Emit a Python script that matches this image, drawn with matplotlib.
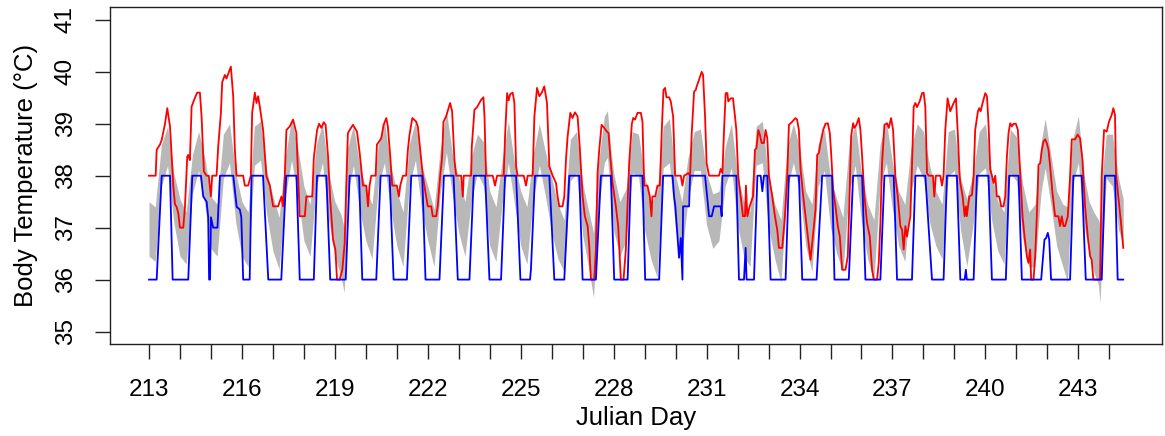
import numpy as np
import matplotlib
matplotlib.use("Agg")
import matplotlib.pyplot as plt

# ---- data (Julian day, deg C) ----
# grey band: (day, upper, lower)
band_pts = [
    (213.0, 37.50, 36.45), (213.2, 37.40, 36.35), (213.4, 38.60, 37.80), (213.6, 38.95, 38.20),
    (213.8, 38.05, 37.10), (214.0, 37.55, 36.45), (214.2, 37.30, 36.30), (214.4, 38.40, 37.65),
    (214.6, 38.85, 38.10), (214.8, 38.35, 37.45), (215.0, 37.60, 36.60), (215.2, 37.45, 36.45),
    (215.4, 38.80, 37.95), (215.6, 39.00, 38.25), (215.8, 38.05, 37.10), (216.0, 37.50, 36.45),
    (216.2, 37.30, 36.25), (216.4, 38.95, 38.20), (216.6, 39.05, 38.30), (216.8, 38.10, 37.25),
    (217.0, 37.60, 36.55), (217.2, 37.20, 36.20), (217.4, 38.35, 37.60), (217.6, 39.10, 38.30),
    (217.8, 38.55, 37.65), (218.0, 37.80, 36.75), (218.2, 37.45, 36.45), (218.4, 38.60, 37.80),
    (218.6, 39.00, 38.25), (218.8, 38.05, 37.15), (219.0, 37.50, 36.45), (219.2, 37.25, 36.05),
    (219.3, 37.00, 35.75), (219.4, 38.50, 37.60), (219.6, 38.98, 38.20), (219.8, 38.20, 37.35),
    (220.0, 37.75, 36.75), (220.2, 37.45, 36.40), (220.4, 38.60, 37.80), (220.6, 39.05, 38.25),
    (220.8, 38.20, 37.35), (221.0, 37.70, 36.65), (221.2, 37.30, 36.25), (221.4, 38.60, 37.80),
    (221.6, 39.05, 38.30), (221.8, 38.20, 37.35), (222.0, 37.80, 36.75), (222.2, 37.35, 36.25),
    (222.4, 38.50, 37.65), (222.6, 39.25, 38.45), (222.8, 38.40, 37.60), (223.0, 37.95, 36.90),
    (223.2, 37.50, 36.45), (223.4, 38.35, 37.50), (223.6, 38.80, 38.05), (223.8, 38.65, 37.80),
    (224.0, 37.70, 36.65), (224.2, 37.40, 36.35), (224.4, 38.30, 37.45), (224.6, 39.05, 38.25),
    (224.8, 38.25, 37.45), (225.0, 37.70, 36.65), (225.2, 37.40, 36.30), (225.4, 38.40, 37.55),
    (225.6, 39.00, 38.20), (225.8, 38.45, 37.60), (226.0, 37.95, 36.90), (226.2, 37.45, 36.40),
    (226.4, 37.15, 36.15), (226.6, 38.70, 37.90), (226.8, 38.85, 38.05), (227.0, 37.85, 36.85),
    (227.2, 37.30, 36.20), (227.35, 36.90, 35.65), (227.5, 38.20, 37.35), (227.7, 39.15, 38.25),
    (227.8, 39.25, 38.35), (227.9, 38.55, 37.65), (228.0, 38.05, 36.95), (228.2, 37.50, 36.45),
    (228.4, 37.75, 36.75), (228.6, 38.85, 38.05), (228.8, 38.80, 38.00), (229.0, 38.00, 36.95),
    (229.2, 37.45, 36.40), (229.4, 37.70, 36.05), (229.6, 38.95, 38.15), (229.8, 39.10, 38.25),
    (230.0, 38.00, 36.95), (230.2, 37.50, 36.45), (230.4, 38.35, 37.55), (230.6, 38.85, 38.10),
    (230.8, 38.90, 38.10), (231.0, 38.05, 37.05), (231.2, 37.65, 36.60), (231.4, 37.70, 36.75),
    (231.6, 38.55, 37.80), (231.8, 39.00, 38.15), (232.0, 38.00, 37.05), (232.2, 37.50, 36.45),
    (232.4, 37.30, 36.25), (232.6, 38.95, 38.20), (232.8, 39.05, 38.25), (233.0, 37.95, 37.00),
    (233.2, 37.45, 36.40), (233.4, 37.15, 35.95), (233.6, 38.55, 37.75), (233.8, 39.00, 38.25),
    (234.0, 38.55, 37.70), (234.2, 37.70, 36.65), (234.4, 37.45, 36.15), (234.6, 38.60, 37.80),
    (234.8, 38.90, 38.10), (235.0, 37.95, 37.00), (235.2, 37.55, 36.50), (235.4, 37.20, 36.15),
    (235.6, 38.60, 37.70), (235.8, 39.00, 38.20), (236.0, 38.05, 37.10), (236.2, 37.45, 36.40),
    (236.4, 37.15, 36.00), (236.6, 38.60, 37.80), (236.8, 39.05, 38.25), (237.0, 38.25, 37.35),
    (237.2, 37.70, 36.65), (237.4, 37.45, 36.35), (237.6, 38.55, 37.70), (237.8, 39.00, 38.20),
    (238.0, 38.85, 37.95), (238.2, 38.20, 37.10), (238.4, 37.70, 36.65), (238.6, 37.45, 36.40),
    (238.8, 38.85, 38.00), (239.0, 38.90, 38.10), (239.2, 37.95, 36.95), (239.4, 37.55, 36.25),
    (239.6, 38.05, 37.05), (239.8, 38.85, 38.05), (240.0, 39.00, 38.15), (240.2, 38.05, 37.15),
    (240.4, 37.50, 36.55), (240.6, 37.30, 36.30), (240.8, 38.90, 38.05), (241.0, 38.75, 37.90),
    (241.2, 37.85, 36.80), (241.4, 37.30, 36.25), (241.6, 37.45, 36.25), (241.8, 38.65, 37.70),
    (241.93, 39.10, 38.15), (242.1, 38.45, 37.50), (242.3, 37.70, 36.65), (242.5, 37.45, 36.25),
    (242.65, 37.40, 35.95), (242.8, 38.65, 37.80), (243.0, 39.15, 38.25), (243.2, 37.95, 37.00),
    (243.35, 37.50, 36.50), (243.5, 37.30, 36.15), (243.65, 37.15, 35.90), (243.7, 37.05, 35.55),
    (243.75, 37.90, 36.25), (243.9, 38.80, 37.95), (244.1, 38.80, 37.80), (244.3, 37.95, 36.95),
    (244.45, 37.55, 36.70),
]

# red line: (day, temp)
red_pts = [
    (213.0, 38.0), (213.215, 38.0), (213.247, 38.5), (213.355, 38.6), (213.41, 38.69), (213.516, 39.0),
    (213.59, 39.3), (213.677, 38.95), (213.73, 38.4), (213.784, 37.8), (213.838, 37.45), (213.89, 37.4),
    (213.945, 37.28), (213.999, 37.0), (214.106, 37.0), (214.16, 37.4), (214.235, 38.37), (214.268, 38.4),
    (214.32, 38.3), (214.375, 39.33), (214.482, 39.5), (214.557, 39.6), (214.643, 39.6), (214.697, 39.14),
    (214.772, 38.08), (214.858, 38.0), (214.93, 38.0), (214.998, 37.6), (215.04, 38.0), (215.18, 38.0),
    (215.234, 38.56), (215.32, 39.2), (215.363, 39.8), (215.449, 39.94), (215.5, 39.87), (215.556, 39.96),
    (215.642, 40.1), (215.718, 39.53), (215.771, 38.5), (215.825, 38.0), (216.04, 38.0), (216.094, 37.81),
    (216.2, 37.81), (216.287, 38.0), (216.33, 39.21), (216.416, 39.6), (216.47, 39.4), (216.523, 39.53),
    (216.577, 39.33), (216.684, 38.88), (216.79, 37.99), (216.899, 37.81), (217.007, 37.41), (217.168, 37.41),
    (217.275, 37.6), (217.329, 37.41), (217.383, 38.0), (217.436, 38.88), (217.544, 38.95), (217.651, 39.08),
    (217.758, 38.82), (217.866, 37.22), (218.03, 37.22), (218.08, 37.6), (218.27, 37.6), (218.32, 38.34),
    (218.425, 38.88), (218.49, 39.0), (218.564, 38.92), (218.64, 39.03), (218.7, 38.98), (218.78, 38.37),
    (218.85, 37.54), (218.94, 36.77), (219.015, 36.58), (219.07, 36.0), (219.155, 36.0), (219.24, 36.19),
    (219.316, 36.7), (219.37, 37.86), (219.42, 38.82), (219.477, 38.88), (219.585, 38.98), (219.713, 38.85),
    (219.8, 38.44), (219.907, 37.81), (220.014, 37.81), (220.07, 37.41), (220.12, 37.81), (220.175, 38.0),
    (220.315, 38.0), (220.358, 38.6), (220.497, 38.72), (220.573, 38.98), (220.66, 39.11), (220.71, 38.95),
    (220.788, 38.37), (220.85, 37.81), (221.0, 37.81), (221.067, 37.6), (221.11, 37.81), (221.196, 38.0),
    (221.3, 38.0), (221.357, 38.5), (221.41, 38.79), (221.5, 39.11), (221.625, 39.04), (221.68, 38.94),
    (221.733, 38.63), (221.84, 38.0), (221.926, 37.67), (222.0, 37.41), (222.11, 37.41), (222.16, 37.22),
    (222.27, 37.22), (222.32, 37.41), (222.4, 38.0), (222.46, 38.34), (222.506, 39.04), (222.59, 39.14),
    (222.72, 39.4), (222.785, 39.24), (222.86, 38.31), (222.914, 38.0), (223.075, 38.0), (223.13, 37.6),
    (223.16, 38.0), (223.4, 38.0), (223.42, 38.56), (223.506, 39.27), (223.59, 39.32), (223.72, 39.46),
    (223.796, 39.51), (223.83, 39.14), (223.88, 38.0), (224.097, 38.0), (224.17, 37.81), (224.237, 38.0),
    (224.45, 38.0), (224.494, 38.76), (224.56, 39.59), (224.61, 39.45), (224.66, 39.57), (224.74, 39.6),
    (224.795, 39.4), (224.85, 38.18), (224.9, 38.0), (225.096, 38.0), (225.17, 37.81), (225.225, 38.0),
    (225.386, 38.0), (225.44, 39.14), (225.526, 39.69), (225.6, 39.53), (225.68, 39.6), (225.76, 39.72),
    (225.848, 39.4), (225.923, 38.18), (226.03, 38.0), (226.138, 37.86), (226.19, 37.6), (226.245, 37.41),
    (226.35, 37.41), (226.406, 37.6), (226.46, 38.31), (226.514, 38.76), (226.6, 39.21), (226.67, 39.11),
    (226.75, 39.22), (226.836, 39.14), (226.91, 38.5), (226.997, 37.6), (227.07, 37.22), (227.16, 37.03),
    (227.212, 36.64), (227.266, 36.0), (227.373, 36.0), (227.426, 36.58), (227.48, 38.05), (227.534, 38.5),
    (227.61, 38.98), (227.695, 38.92), (227.78, 38.85), (227.835, 38.82), (227.89, 38.37), (227.964, 37.86),
    (228.07, 37.41), (228.146, 37.03), (228.232, 36.0), (228.318, 36.0), (228.393, 36.58), (228.5, 38.24),
    (228.587, 39.0), (228.63, 39.11), (228.69, 39.08), (228.77, 39.21), (228.877, 39.21), (228.93, 39.04),
    (228.985, 37.81), (229.09, 37.81), (229.167, 37.6), (229.22, 37.22), (229.25, 37.6), (229.34, 37.6),
    (229.414, 37.81), (229.49, 37.81), (229.554, 38.88), (229.607, 39.65), (229.66, 39.69), (229.704, 39.51),
    (229.79, 39.51), (229.844, 39.43), (229.92, 39.14), (229.983, 38.0), (230.166, 38.0), (230.22, 37.81),
    (230.273, 38.0), (230.41, 38.05), (230.467, 38.0), (230.52, 38.82), (230.596, 39.62), (230.65, 39.65),
    (230.68, 39.72), (230.757, 39.85), (230.84, 40.0), (230.886, 39.94), (230.95, 39.14), (231.0, 38.24),
    (231.08, 38.0), (231.4, 38.0), (231.455, 38.13), (231.51, 38.05), (231.563, 38.88), (231.616, 39.59),
    (231.67, 39.59), (231.7, 39.43), (231.777, 39.49), (231.852, 39.49), (231.917, 39.14), (231.96, 38.88),
    (232.02, 38.0), (232.1, 37.6), (232.175, 37.22), (232.24, 37.22), (232.27, 37.81), (232.315, 37.22),
    (232.39, 37.41), (232.497, 37.6), (232.561, 38.5), (232.61, 38.53), (232.67, 38.88), (232.72, 38.79),
    (232.776, 38.63), (232.85, 38.63), (232.905, 38.88), (232.96, 38.72), (233.012, 38.0), (233.12, 37.6),
    (233.206, 37.22), (233.28, 36.96), (233.335, 36.61), (233.442, 36.61), (233.528, 37.22), (233.603, 38.0),
    (233.657, 38.98), (233.764, 39.04), (233.87, 39.11), (233.92, 39.08), (233.98, 38.88), (234.033, 38.12),
    (234.12, 37.6), (234.194, 37.22), (234.27, 36.83), (234.355, 36.38), (234.41, 36.7), (234.462, 37.03),
    (234.516, 37.35), (234.57, 38.4), (234.624, 38.44), (234.677, 38.63), (234.763, 38.88), (234.838, 39.0),
    (234.914, 39.01), (234.978, 38.82), (235.02, 38.44), (235.085, 37.73), (235.16, 37.41), (235.236, 37.03),
    (235.3, 36.83), (235.376, 36.19), (235.483, 36.19), (235.558, 36.45), (235.62, 37.73), (235.665, 38.76),
    (235.73, 39.01), (235.77, 38.92), (235.837, 38.98), (235.912, 39.11), (235.966, 38.88), (236.02, 38.37),
    (236.095, 37.6), (236.18, 37.09), (236.267, 36.83), (236.342, 36.19), (236.396, 36.0), (236.503, 36.0),
    (236.557, 36.32), (236.61, 37.09), (236.664, 38.24), (236.74, 38.98), (236.826, 39.01), (236.88, 38.92),
    (236.955, 39.11), (237.02, 38.88), (237.094, 37.99), (237.17, 37.6), (237.255, 37.03), (237.31, 36.96),
    (237.362, 36.58), (237.416, 37.03), (237.47, 36.83), (237.524, 37.03), (237.577, 37.22), (237.63, 38.18),
    (237.685, 39.33), (237.74, 39.4), (237.79, 39.32), (237.878, 39.43), (237.954, 39.59), (238.007, 39.6),
    (238.06, 39.33), (238.115, 38.05), (238.168, 38.0), (238.307, 38.0), (238.35, 37.6), (238.4, 38.0),
    (238.544, 38.0), (238.6, 37.81), (238.65, 38.0), (238.705, 38.88), (238.78, 39.49), (238.866, 39.24),
    (238.952, 39.37), (239.05, 39.49), (239.113, 38.76), (239.167, 38.0), (239.19, 37.86), (239.265, 37.6),
    (239.33, 37.22), (239.37, 37.41), (239.4, 37.22), (239.48, 37.6), (239.566, 37.63), (239.62, 38.0),
    (239.67, 38.88), (239.759, 39.24), (239.8, 39.3), (239.845, 39.24), (239.91, 39.4), (239.995, 39.59),
    (240.05, 39.53), (240.1, 39.01), (240.157, 38.12), (240.21, 38.0), (240.264, 37.86), (240.318, 38.0),
    (240.37, 37.6), (240.447, 37.6), (240.51, 37.41), (240.586, 37.41), (240.64, 37.6), (240.694, 38.37),
    (240.747, 38.82), (240.8, 39.01), (240.855, 38.95), (240.908, 39.0), (240.983, 39.0), (241.048, 38.88),
    (241.123, 38.05), (241.198, 37.22), (241.263, 36.83), (241.338, 36.45), (241.39, 36.32), (241.445, 36.58),
    (241.477, 36.0), (241.553, 36.0), (241.607, 36.45), (241.66, 37.22), (241.714, 38.21), (241.768, 38.24),
    (241.822, 38.5), (241.875, 38.66), (241.93, 38.7), (241.98, 38.63), (242.036, 38.5), (242.09, 38.18),
    (242.165, 37.67), (242.25, 37.22), (242.358, 37.22), (242.41, 37.03), (242.466, 37.22), (242.52, 37.03),
    (242.573, 37.03), (242.66, 37.22), (242.734, 37.99), (242.788, 38.7), (242.895, 38.7), (242.981, 38.79),
    (243.056, 38.72), (243.132, 38.31), (243.218, 37.41), (243.304, 36.83), (243.38, 36.45), (243.43, 36.38),
    (243.486, 36.0), (243.7, 36.0), (243.755, 37.99), (243.83, 38.88), (243.916, 38.85), (243.99, 39.04),
    (244.077, 39.17), (244.13, 39.3), (244.184, 39.17), (244.216, 38.05), (244.29, 37.6), (244.378, 37.09),
    (244.45, 36.61),
]

# blue line: (day, temp)
blue_pts = [
    (213.0, 36.0), (213.247, 36.0), (213.41, 38.0), (213.677, 38.0), (213.763, 36.0), (214.267, 36.0),
    (214.397, 38.0), (214.676, 38.0), (214.75, 37.6), (214.86, 37.5), (214.91, 37.2), (214.94, 36.0),
    (214.97, 36.0), (215.0, 37.2), (215.07, 37.0), (215.21, 37.0), (215.29, 38.0), (215.72, 38.0),
    (215.83, 37.4), (215.93, 37.35), (215.98, 37.2), (216.04, 36.0), (216.25, 36.0), (216.31, 38.0),
    (216.68, 38.0), (216.85, 36.0), (217.27, 36.0), (217.43, 38.0), (217.76, 38.0), (217.866, 36.0),
    (218.32, 36.0), (218.425, 38.0), (218.725, 38.0), (218.85, 36.0), (219.35, 36.0), (219.477, 38.0),
    (219.78, 38.0), (219.885, 36.0), (220.336, 36.0), (220.476, 38.0), (220.766, 38.0), (220.895, 36.0),
    (221.325, 36.0), (221.466, 38.0), (221.82, 38.0), (221.926, 36.0), (222.377, 36.0), (222.52, 38.0),
    (222.83, 38.0), (222.968, 36.0), (223.345, 36.0), (223.485, 38.0), (223.85, 38.0), (223.99, 36.0),
    (224.365, 36.0), (224.494, 38.0), (224.85, 38.0), (224.99, 36.0), (225.3, 36.0), (225.33, 36.2),
    (225.46, 38.0), (225.923, 38.0), (226.084, 36.0), (226.406, 36.0), (226.567, 38.0), (226.89, 38.0),
    (226.997, 36.0), (227.426, 36.0), (227.588, 38.0), (227.91, 38.0), (228.017, 36.0), (228.45, 36.0),
    (228.555, 38.0), (228.93, 38.0), (229.017, 36.0), (229.468, 36.0), (229.597, 38.0), (229.9, 38.0),
    (229.95, 37.6), (229.99, 37.41), (230.09, 36.6), (230.11, 36.42), (230.166, 36.8), (230.22, 36.0),
    (230.24, 37.41), (230.434, 37.41), (230.467, 38.0), (230.95, 38.0), (231.08, 37.22), (231.165, 37.22),
    (231.24, 37.41), (231.455, 37.41), (231.487, 37.22), (231.51, 38.0), (231.96, 38.0), (232.045, 36.0),
    (232.207, 36.0), (232.26, 36.61), (232.29, 36.0), (232.53, 36.0), (232.64, 38.0), (232.745, 38.0),
    (232.8, 37.7), (232.85, 38.0), (232.96, 38.0), (233.066, 36.0), (233.55, 36.0), (233.657, 38.0),
    (233.98, 38.0), (234.087, 36.0), (234.55, 36.0), (234.73, 38.0), (235.05, 38.0), (235.128, 36.0),
    (235.59, 36.0), (235.73, 38.0), (236.02, 38.0), (236.127, 36.0), (236.61, 36.0), (236.74, 38.0),
    (237.04, 38.0), (237.148, 36.0), (237.63, 36.0), (237.74, 38.0), (238.06, 38.0), (238.276, 36.0),
    (238.65, 36.0), (238.76, 38.0), (239.08, 38.0), (239.19, 36.0), (239.33, 36.0), (239.37, 36.19),
    (239.4, 36.0), (239.62, 36.0), (239.727, 38.0), (240.1, 38.0), (240.21, 36.0), (240.66, 36.0),
    (240.768, 38.0), (241.07, 38.0), (241.177, 36.0), (241.8, 36.0), (241.907, 36.77), (241.96, 36.8),
    (242.015, 36.9), (242.06, 36.77), (242.12, 36.0), (242.734, 36.0), (242.84, 38.0), (243.11, 38.0),
    (243.24, 36.0), (243.755, 36.0), (243.86, 38.0), (244.184, 38.0), (244.27, 36.0), (244.45, 36.0),
]

x_ticks = list(range(213, 245))
x_labels = [str(d) if (d - 213) % 3 == 0 else "" for d in x_ticks]
y_ticks = [35, 36, 37, 38, 39, 40, 41]

band = np.array(band_pts)
red = np.array(red_pts)
blue = np.array(blue_pts)

plt.rcParams["font.family"] = ["Liberation Sans", "DejaVu Sans"]

fig = plt.figure(figsize=(11.65, 4.36), dpi=100)
ax = fig.add_axes([0.0944, 0.211, 0.9030, 0.772])

ax.fill_between(band[:, 0], band[:, 2], band[:, 1], color="#b8b8b8", lw=0)
ax.plot(red[:, 0], red[:, 1], color="#ff0000", lw=1.3)
ax.plot(blue[:, 0], blue[:, 1], color="#0000ff", lw=1.3)

ax.set_xlim(211.74, 245.7)
ax.set_ylim(34.76, 41.24)
ax.set_xticks(x_ticks)
ax.set_xticklabels(x_labels)
ax.set_yticks(y_ticks)
ax.tick_params(axis="both", length=11, width=1, labelsize=17.5, color="#222222")
ax.tick_params(axis="x", pad=14)
ax.tick_params(axis="y", pad=13)
plt.setp(ax.get_yticklabels(), rotation=90, va="center")
for sp in ax.spines.values():
    sp.set_linewidth(1)
    sp.set_color("#222222")

ax.set_xlabel("Julian Day", fontsize=18.5, labelpad=4)
ax.set_ylabel("Body Temperature (°C)", fontsize=18.5, labelpad=12)

fig.savefig("out.png", dpi=100)
